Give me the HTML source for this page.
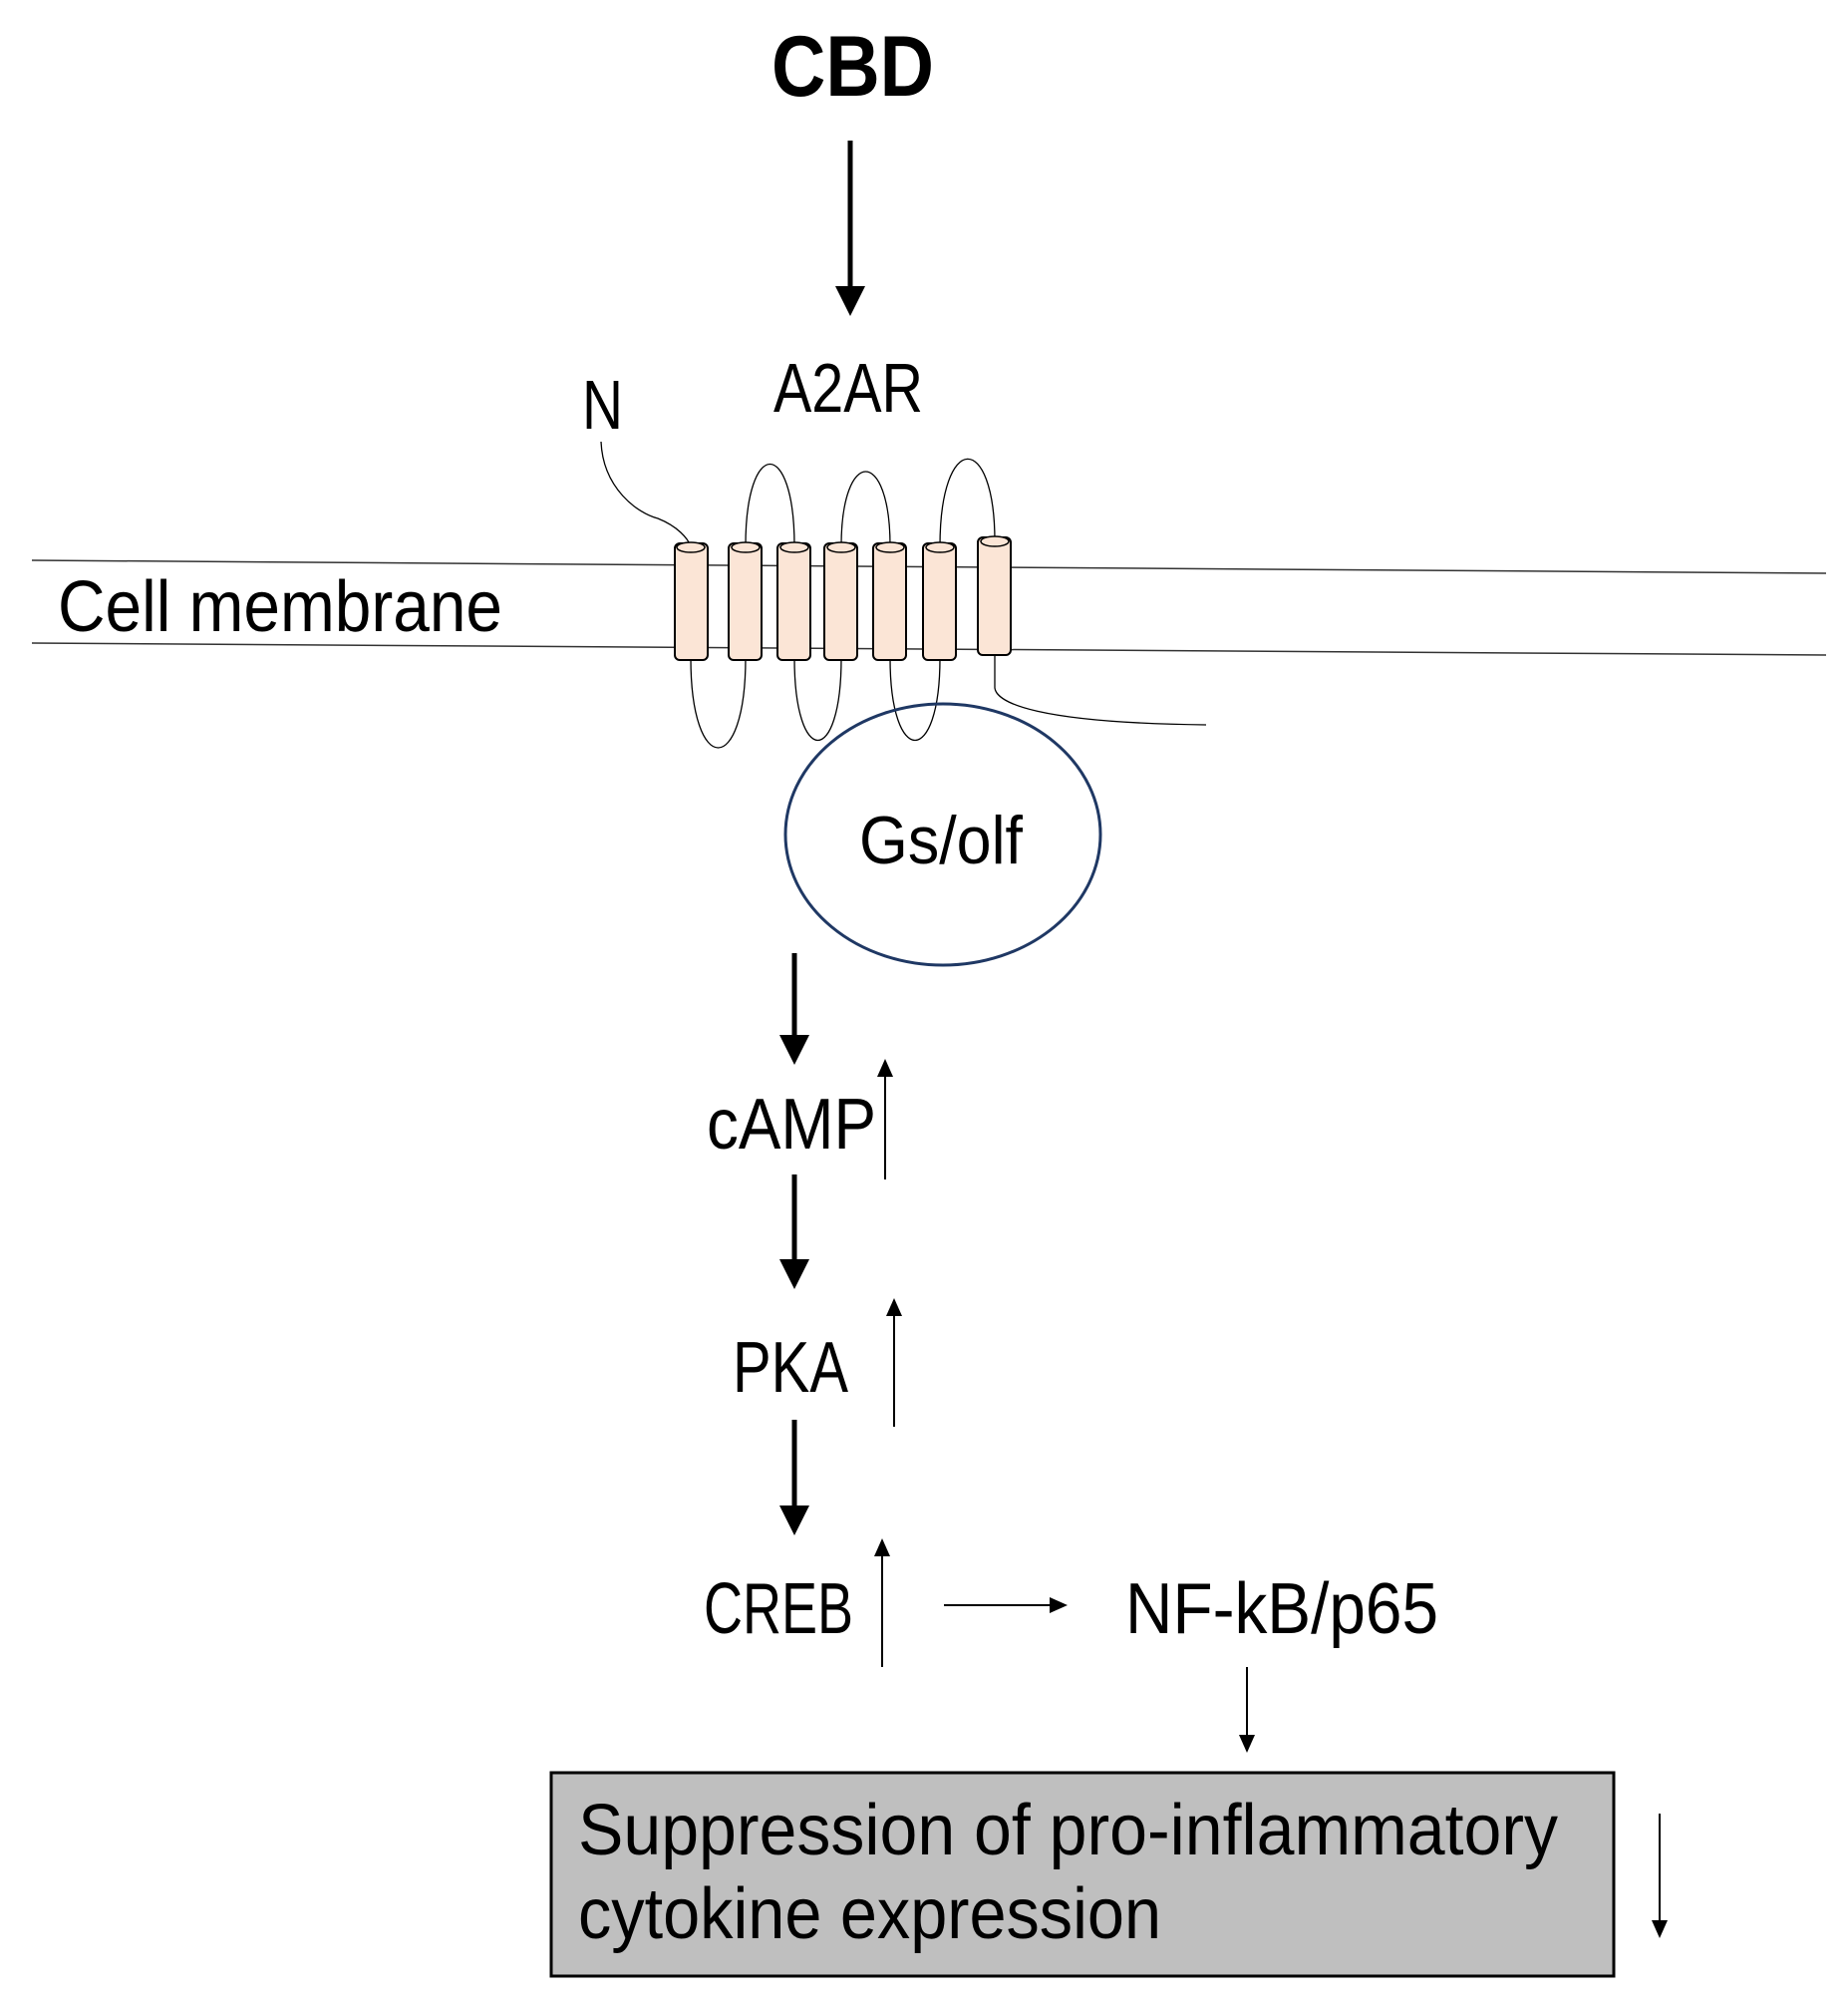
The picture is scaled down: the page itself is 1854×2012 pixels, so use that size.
<!DOCTYPE html>
<html><head><meta charset="utf-8"><style>html,body{margin:0;padding:0;background:#fff}svg{display:block}</style></head>
<body>
<svg width="1854" height="2012" viewBox="0 0 1854 2012" xmlns="http://www.w3.org/2000/svg" font-family="'Liberation Sans', sans-serif">
<defs>
<marker id="th" markerWidth="6" markerHeight="6" refX="5" refY="3" orient="auto" markerUnits="strokeWidth"><path d="M0,0 L6,3 L0,6 Z" fill="#000"/></marker>
<marker id="tn" markerWidth="9" markerHeight="8" refX="8" refY="4" orient="auto" markerUnits="strokeWidth"><path d="M0,0 L9,4 L0,8 Z" fill="#000"/></marker>
</defs>
<text x="774" y="96" font-size="86" font-weight="bold" textLength="163" lengthAdjust="spacingAndGlyphs">CBD</text>
<line x1="853" y1="141" x2="853" y2="312" stroke="#000" stroke-width="5" marker-end="url(#th)"/>
<text x="776" y="413" font-size="70" textLength="150" lengthAdjust="spacingAndGlyphs">A2AR</text>
<text x="584" y="430" font-size="70" textLength="41" lengthAdjust="spacingAndGlyphs">N</text>
<line x1="32" y1="562" x2="1832" y2="575" stroke="#333" stroke-width="1.5"/>
<line x1="32" y1="645" x2="1832" y2="657" stroke="#333" stroke-width="1.5"/>
<text x="58" y="633" font-size="72" textLength="446" lengthAdjust="spacingAndGlyphs">Cell membrane</text>
<g fill="none" stroke="#000" stroke-width="1.3">
<path d="M603,443 C605,490 640,515 660,520 C680,528 690,540 693,548"/>
<path d="M748,548 C748,438 797,438 797,548"/>
<path d="M844,548 C844,448 893,448 893,548"/>
<path d="M943,548 C943,432 998,432 998,543"/>
<path d="M693,660 C693,780 748,780 748,660"/>
<path d="M797,660 C797,770 844,770 844,660"/>
<path d="M893,660 C893,770 943,770 943,660"/>
<path d="M998,657 L998,690 C1000,705 1040,725 1210,727"/>
</g>
<g fill="#fbe5d6" stroke="#000" stroke-width="2">
<rect x="677" y="545" width="33" height="117" rx="5"/>
<rect x="731" y="545" width="33" height="117" rx="5"/>
<rect x="780" y="545" width="33" height="117" rx="5"/>
<rect x="827" y="545" width="33" height="117" rx="5"/>
<rect x="876" y="545" width="33" height="117" rx="5"/>
<rect x="926" y="545" width="33" height="117" rx="5"/>
<rect x="981" y="539" width="33" height="118" rx="5"/>
</g>
<g fill="#fbe5d6" stroke="#000" stroke-width="1.5">
<ellipse cx="693" cy="549" rx="14" ry="5"/><ellipse cx="748" cy="549" rx="14" ry="5"/><ellipse cx="797" cy="549" rx="14" ry="5"/><ellipse cx="844" cy="549" rx="14" ry="5"/><ellipse cx="893" cy="549" rx="14" ry="5"/><ellipse cx="943" cy="549" rx="14" ry="5"/><ellipse cx="998" cy="543" rx="14" ry="5"/>
</g>
<ellipse cx="946" cy="837" rx="158" ry="131" fill="none" stroke="#1f3864" stroke-width="3"/>
<text x="862" y="866" font-size="68" textLength="164" lengthAdjust="spacingAndGlyphs">Gs/olf</text>
<line x1="797" y1="956" x2="797" y2="1063" stroke="#000" stroke-width="5" marker-end="url(#th)"/>
<text x="709" y="1152" font-size="72" textLength="170" lengthAdjust="spacingAndGlyphs">cAMP</text>
<line x1="888" y1="1183" x2="888" y2="1064" stroke="#000" stroke-width="2" marker-end="url(#tn)"/>
<line x1="797" y1="1178" x2="797" y2="1288" stroke="#000" stroke-width="5" marker-end="url(#th)"/>
<text x="735" y="1396" font-size="72" textLength="116" lengthAdjust="spacingAndGlyphs">PKA</text>
<line x1="897" y1="1431" x2="897" y2="1304" stroke="#000" stroke-width="2" marker-end="url(#tn)"/>
<line x1="797" y1="1424" x2="797" y2="1535" stroke="#000" stroke-width="5" marker-end="url(#th)"/>
<text x="706" y="1638" font-size="72" textLength="150" lengthAdjust="spacingAndGlyphs">CREB</text>
<line x1="885" y1="1672" x2="885" y2="1545" stroke="#000" stroke-width="2" marker-end="url(#tn)"/>
<line x1="947" y1="1610" x2="1069" y2="1610" stroke="#000" stroke-width="2" marker-end="url(#tn)"/>
<text x="1129" y="1638" font-size="72" textLength="314" lengthAdjust="spacingAndGlyphs">NF-kB/p65</text>
<line x1="1251" y1="1672" x2="1251" y2="1756" stroke="#000" stroke-width="2" marker-end="url(#tn)"/>
<rect x="553" y="1778" width="1066" height="204" fill="#bfbfbf" stroke="#000" stroke-width="3"/>
<text x="580" y="1860" font-size="72" textLength="983" lengthAdjust="spacingAndGlyphs">Suppression of pro-inflammatory</text>
<text x="580" y="1944" font-size="72" textLength="585" lengthAdjust="spacingAndGlyphs">cytokine expression</text>
<line x1="1665" y1="1819" x2="1665" y2="1942" stroke="#000" stroke-width="2" marker-end="url(#tn)"/>
</svg>
</body></html>
